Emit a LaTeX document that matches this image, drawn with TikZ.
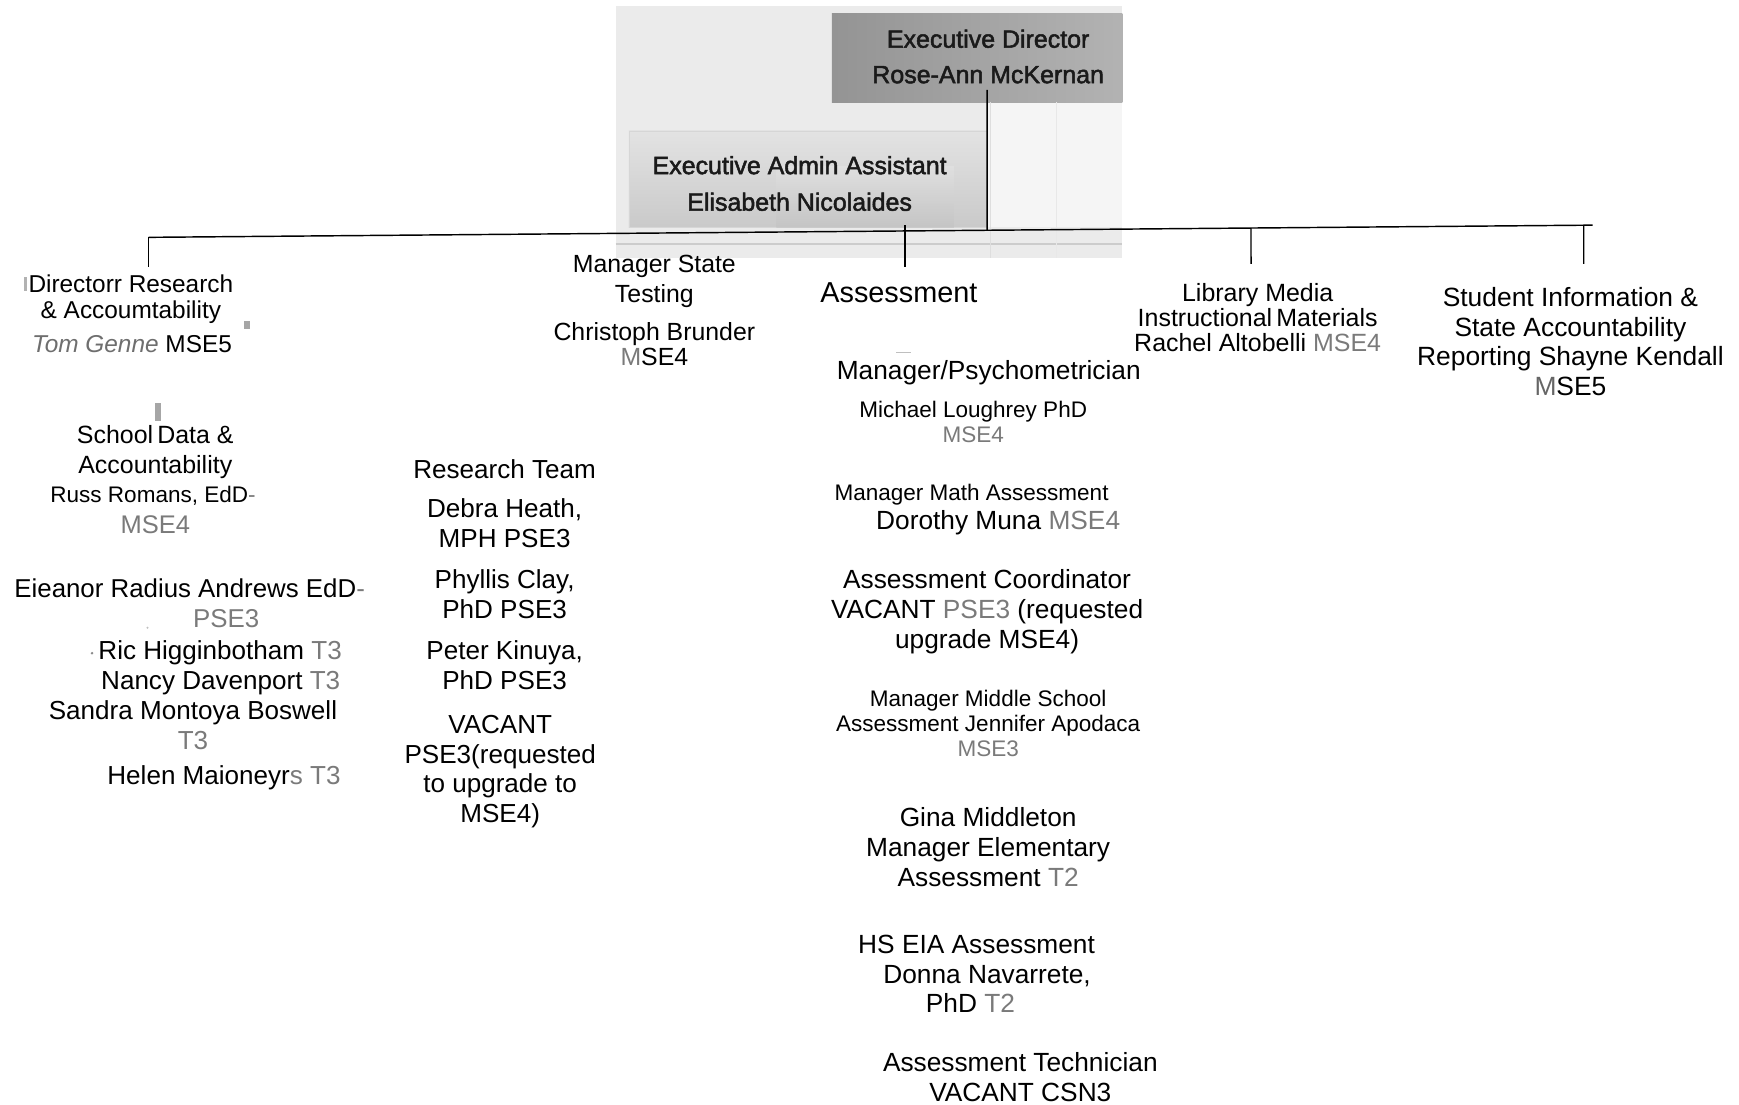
\documentclass[tikz,border=0pt]{standalone}
\usepackage{fontspec}
\setmainfont{Liberation Sans}
\newfontfamily\scanfont{Liberation Sans}[FakeBold=2]
\usetikzlibrary{calc}
\definecolor{gradegray}{HTML}{7A7A7A}
\definecolor{namegray}{HTML}{6E6E6E}
\definecolor{scanbg}{HTML}{EBEBEB}
\definecolor{scanink}{HTML}{1A1A1A}
\newcommand\gr[1]{\textcolor{gradegray}{#1}}
\newcommand\fs[2]{\fontsize{#1}{#2}\selectfont}

\begin{document}
% Each label is placed by the baseline of its last line.
\begin{tikzpicture}[x=1pt,y=-1pt,
  lbl/.style={align=center,inner sep=0pt,anchor=base,text=black,font=\fs{23.5}{27}},
  lblsm/.style={lbl,font=\fs{20.3}{23}},
  scanlbl/.style={align=center,inner sep=0pt,anchor=base,text=scanink},
  wire/.style={line width=1.3pt,black},
  speck/.style={fill=black!35,draw=none}]
\useasboundingbox (0,0) rectangle (1568,996);

% ---- scanned header: director and assistant boxes
\fill[scanbg] (555,5) rectangle (1012,233);
\fill[black!4] (890,92) rectangle (1012,205);
\shade[left color=black!42,right color=black!30] (750,12) rectangle (1012,92);
\shade[top color=black!11,bottom color=black!21,draw=black!16] (567,118) rectangle (890,205);
\shade[top color=black!11,bottom color=black!24,opacity=0.6] (700,150) rectangle (860,205);
\draw[black!20,line width=2pt] (555,220) -- (1012,220);
\draw[black!13,line width=1pt] (893,92) -- (893,233);
\draw[black!9,line width=1pt] (953,92) -- (953,233);

\node[scanlbl,font=\scanfont\fs{22.5}{32}] (exec) at (891,75)
  {Executive Director\\Rose-Ann McKernan};
\node[scanlbl,font=\scanfont\fs{22.5}{33}] (admin) at (721,190)
  {Executive Admin Assistant\\Elisabeth Nicolaides};

% ---- reporting bus
\coordinate (execTap) at (890,81);
\coordinate (busL) at (134,214);
\coordinate (busR) at (1436,203);
\coordinate (busExec)  at ($(busL)!{(890-134)/1302}!(busR)$);
\coordinate (busLib)   at ($(busL)!{(1128-134)/1302}!(busR)$);
\coordinate (busStu)   at ($(busL)!{(1428-134)/1302}!(busR)$);
\coordinate (dropDir) at (134,241);
\coordinate (topAss) at (816,203);
\coordinate (dropAss) at (816,241);
\coordinate (dropLib) at (1128,238);
\coordinate (dropStu) at (1428,238);

\draw[wire] (execTap) -- (busExec);
\draw[wire] (busL) -- (busR);
\draw[wire] (busL) -- (dropDir);
\draw[wire] (topAss) -- (dropAss);
\draw[wire] (busLib) -- (dropLib);
\draw[wire] (busStu) -- (dropStu);

% ---- research & accountability
\node[lbl,font=\fs{22}{23}] (dirA) at (118,287)
  {Directorr Research\\\& Accoumtability};
\node[lbl,font=\fs{22}{23}] (dirB) at (119,318)
  {\textcolor{namegray}{\itshape Tom Genne} MSE5};
\fill[black!30] (22,250) rectangle (24.5,262);
\fill[speck] (220,289) rectangle (225,297);
\fill[speck] (140,363) rectangle (145,380);

\node[lbl,font=\fs{22.5}{27}] (school) at (140,427)
  {School\,Data \&\\Accountability};
\node[lblsm] (russ) at (138,453) {Russ Romans, EdD\gr{-}};
\node[lbl,font=\fs{23}{27}] (russG) at (140,481) {\gr{MSE4}};

\node[lbl,font=\fs{23.3}{27}] (elea) at (171,539) {Eieanor Radius Andrews EdD\gr{-}};
\node[lbl,font=\fs{23.3}{27}] (eleaG) at (204,566) {\gr{PSE3}};
\fill[black!25] (133,566) circle (1pt);
\fill[black!45] (83,589) circle (1.3pt);
\node[lbl] (ric) at (198.5,595) {Ric Higginbotham \gr{T3}};
\node[lbl] (nancy) at (199,622) {Nancy Davenport \gr{T3}};
\node[lbl] (sandra) at (174,676) {Sandra Montoya Boswell\\\gr{T3}};
\node[lbl] (helen) at (202,707) {Helen Maioneyr\gr{s} \gr{T3}};

% ---- state testing and research team
\node[lbl,font=\fs{22.4}{27}] (testA) at (590,273) {Manager State\\Testing};
\node[lbl,font=\fs{22.4}{23}] (testB) at (590,330)
  {Christoph Brunder\\\gr{M}SE4};

\node[lbl] (team) at (455,431) {Research Team};
\node[lbl] (debra) at (455,494) {Debra Heath,\\MPH PSE3};
\node[lbl] (phyllis) at (455,558) {Phyllis Clay,\\PhD PSE3};
\node[lbl] (peter) at (455,622) {Peter Kinuya,\\PhD PSE3};
\node[lbl] (vacR) at (451,742)
  {VACANT\\PSE3(requested\\to upgrade to\\MSE4)};

% ---- assessment
\node[lbl,font=\fs{26}{30}] (ass) at (810.5,273) {Assessment};
\draw[black!25,line width=1pt] (808,318) -- (821,318);
\node[lbl,font=\fs{23.7}{27}] (psych) at (891.5,342) {Manager/Psychometrician};
\node[lblsm] (michael) at (877.5,399) {Michael Loughrey PhD\\\gr{MSE4}};
\node[lblsm] (mathA) at (876,451) {Manager Math Assessment};
\node[lbl,font=\fs{23.7}{27}] (mathB) at (900,477) {Dorothy Muna \gr{MSE4}};
\node[lbl,font=\fs{23.7}{27}] (coord) at (890,585)
  {Assessment Coordinator\\VACANT \gr{PSE3} (requested\\upgrade MSE4)};
\node[lblsm,font=\fs{20.3}{22.5}] (middle) at (891,682)
  {Manager Middle School\\Assessment Jennifer Apodaca\\\gr{MSE3}};
\node[lbl,font=\fs{23.7}{27}] (gina) at (891,799)
  {Gina Middleton\\Manager Elementary\\Assessment \gr{T2}};
\node[lbl,font=\fs{23.7}{27}] (hsA) at (880.5,860) {HS EIA Assessment};
\node[lbl,font=\fs{23.7}{27}] (hsB) at (890,887) {Donna Navarrete,};
\node[lbl,font=\fs{23.7}{27}] (hsC) at (875,913) {PhD \gr{T2}};
\node[lbl,font=\fs{23.7}{27}] (tech) at (920,993)
  {Assessment Technician\\VACANT CSN3};

% ---- library media and student information
\node[lbl,font=\fs{22.5}{22.5}] (lib) at (1134,317)
  {Library Media\\Instructional\,Materials\\Rachel Altobelli \gr{MSE4}};
\node[lbl,font=\fs{23.8}{27}] (stu) at (1416,357)
  {Student Information \&\\State Accountability\\Reporting Shayne Kendall\\\textcolor{black!60}{M}SE5};
\end{tikzpicture}
\end{document}
